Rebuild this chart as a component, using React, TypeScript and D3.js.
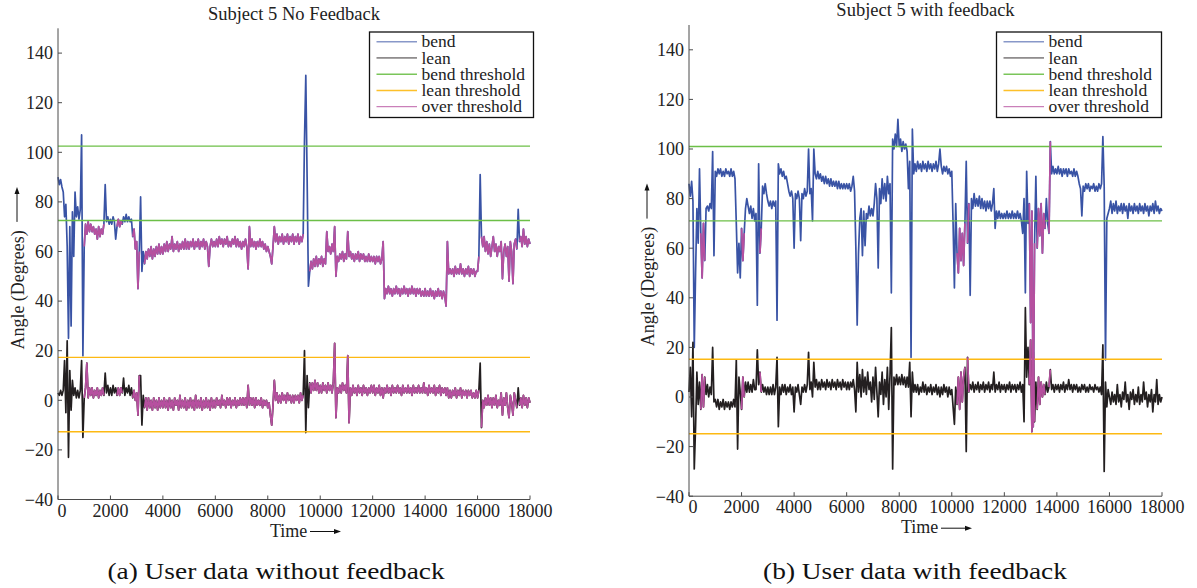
import React from 'react';
import * as d3 from 'd3';

// ---------------- DATA ----------------
const SAMPLE_STEP = 50; // time units between samples
const TIME_MAX = 18000;

// Subject 5, no feedback — bend angle (degrees), one row per 1000 time units
const bendNoFeedback = [
  90, 87, 89, 86, 84, 74, 79, 62, 25, 70, 30, 76, 58, 84, 74, 78, 73, 77, 107, 18,
  62, 71, 67, 72, 68, 71, 68, 70, 67, 69, 65, 70, 66, 69, 67, 71, 87, 72, 74, 71,
  73, 71, 74, 72, 65, 70, 73, 70, 72, 71, 74, 72, 75, 72, 74, 72, 73, 66, 69, 61,
  64, 45, 60, 82, 52, 60, 55, 60, 57, 61, 58, 62, 57, 61, 58, 62, 59, 63, 59, 62,
  59, 63, 60, 64, 60, 63, 61, 66, 60, 63, 61, 64, 60, 63, 61, 64, 61, 65, 61, 64,
  61, 64, 62, 65, 61, 64, 62, 65, 61, 64, 62, 65, 61, 64, 62, 54, 62, 65, 62, 64,
  62, 65, 62, 66, 63, 65, 62, 65, 63, 66, 62, 64, 62, 65, 63, 66, 62, 65, 62, 64,
  61, 64, 62, 65, 62, 53, 70, 62, 65, 62, 64, 61, 64, 62, 65, 62, 64, 61, 63, 60,
  62, 60, 58, 55, 62, 70, 64, 67, 63, 66, 64, 67, 63, 66, 64, 67, 63, 66, 64, 67,
  63, 66, 64, 67, 63, 66, 64, 67, 105, 131, 90, 46, 52, 56, 53, 57, 54, 58, 54, 57,
  55, 58, 54, 57, 55, 68, 60, 62, 59, 63, 60, 70, 50, 58, 56, 59, 57, 60, 56, 59,
  57, 68, 58, 60, 57, 59, 56, 59, 57, 60, 56, 59, 57, 59, 56, 58, 56, 59, 56, 58,
  56, 58, 55, 58, 56, 58, 55, 57, 64, 41, 45, 43, 46, 43, 45, 42, 45, 43, 46, 43,
  45, 42, 45, 43, 46, 43, 45, 42, 45, 43, 46, 43, 45, 42, 45, 43, 45, 42, 44, 42,
  45, 42, 44, 42, 45, 42, 44, 41, 44, 42, 45, 42, 44, 41, 44, 42, 38, 64, 51, 53,
  51, 53, 50, 54, 51, 53, 51, 55, 51, 53, 50, 53, 51, 54, 50, 53, 51, 53, 50, 52,
  52, 58, 91, 66, 62, 66, 60, 64, 59, 63, 58, 62, 66, 60, 63, 58, 62, 60, 64, 49,
  60, 63, 58, 62, 48, 64, 60, 47, 63, 65, 61, 77, 64, 66, 62, 69, 63, 66, 62, 65,
  63,
];

// Subject 5, no feedback — lean angle (degrees)
const leanNoFeedback = [
  3, 2, 4, 2, 4, 16, -5, 24, -23, 12, -4, 8, 2, 5, 1, 4, 1, 4, 16, -15,
  1, 5, 15, 1, 5, 2, 5, 1, 4, 2, 5, 1, 4, 2, 5, 2, 11, 3, 6, 2,
  5, 2, 6, 3, 5, 2, 5, 2, 5, 3, 9, 2, 5, 3, 6, 2, 5, 1, 4, 0,
  3, -6, 10, 10, -10, 2, -3, 1, -4, 1, -3, 0, -4, 1, -3, 0, -4, 1, -3, 0,
  -3, 1, -3, 0, -4, 1, -3, 0, -4, 1, -2, 0, -4, 2, -3, 0, -3, 1, -4, 0,
  -3, 1, -3, 0, -4, 2, -3, 0, -3, 1, -4, 0, -3, 1, -3, 0, -4, 1, -3, 0,
  -3, 1, -2, 0, -3, 2, -2, 0, -3, 1, -2, 1, -3, 0, -2, 1, -3, 0, -2, 1,
  -2, 1, -2, 1, -3, 6, -2, 1, -2, 1, -3, 1, -2, 0, -2, 1, -3, 0, -2, 0,
  -3, -1, -6, -10, -2, 8, 0, 3, -1, 2, -1, 3, 0, 2, -1, 3, 0, 2, -1, 2,
  -1, 2, 0, 2, -1, 3, 0, 2, 20, -13, 10, -3, 7, 3, 7, 4, 8, 4, 7, 3,
  6, 3, 7, 4, 6, 3, 7, 4, 6, 3, 7, 23, -7, 5, 3, 6, 3, 7, 4, 6,
  3, 18, -9, 5, 2, 6, 3, 5, 2, 6, 3, 5, 2, 6, 3, 5, 2, 5, 3, 6,
  3, 6, 2, 5, 3, 6, 2, 5, 1, 5, 3, 6, 3, 5, 2, 6, 3, 5, 3, 6,
  3, 5, 2, 6, 3, 5, 3, 6, 3, 5, 2, 6, 3, 5, 3, 6, 3, 5, 3, 7,
  3, 5, 2, 6, 3, 5, 3, 6, 2, 5, 3, 6, 2, 5, 3, 5, 2, 5, 1, 4,
  1, 4, 2, 5, 1, 4, 2, 5, 1, 4, 2, 4, 1, 4, 2, 4, 1, 3, 1, 4,
  1, 4, 15, -11, 0, -3, 1, -2, 2, -2, 1, -3, 1, -2, 2, -3, 0, -2, 3, -6,
  1, -2, 3, -3, -7, 2, -1, -6, 3, 0, -3, 5, -2, 1, -3, 2, -2, 1, -3, 1,
  -1,
];

// Subject 5, with feedback — bend angle (degrees)
const bendFeedback = [
  86, 81, 87, 79, 20, 50, 76, 62, 92, 66, 48, 70, 55, 76, 77, 75, 78, 76, 99, 57,
  91, 89, 92, 90, 92, 89, 91, 89, 92, 90, 91, 89, 92, 89, 91, 88, 70, 50, 62, 48,
  68, 55, 66, 76, 80, 77, 74, 77, 72, 76, 71, 74, 37, 94, 58, 68, 85, 82, 86, 82,
  79, 77, 79, 76, 79, 77, 79, 31, 94, 90, 92, 89, 91, 88, 89, 86, 83, 81, 83, 80,
  60, 82, 80, 83, 80, 63, 82, 80, 84, 81, 83, 100, 82, 84, 71, 100, 90, 88, 91, 88,
  90, 87, 89, 86, 89, 86, 88, 85, 88, 85, 87, 85, 87, 84, 87, 84, 86, 84, 86, 84,
  86, 84, 86, 83, 85, 89, 83, 60, 29, 58, 72, 76, 57, 75, 61, 74, 72, 77, 73, 76,
  73, 78, 86, 80, 52, 84, 78, 88, 80, 86, 79, 89, 82, 86, 42, 104, 100, 106, 101, 112,
  101, 104, 99, 103, 100, 102, 99, 84, 95, 16, 108, 90, 94, 91, 95, 92, 94, 91, 95, 92,
  94, 91, 95, 92, 94, 91, 94, 92, 95, 91, 94, 100, 93, 90, 93, 91, 93, 90, 92, 89,
  91, 70, 44, 78, 58, 50, 68, 55, 66, 53, 70, 95, 62, 78, 41, 80, 76, 82, 77, 80,
  77, 81, 76, 80, 76, 79, 75, 79, 76, 79, 75, 78, 84, 68, 75, 72, 75, 72, 74, 72,
  74, 72, 75, 72, 74, 72, 75, 72, 74, 72, 75, 72, 74, 71, 66, 80, 42, 91, 70, 78,
  30, 75, -12, 62, 89, 60, 76, 65, 78, 58, 74, 68, 80, 70, 66, 103, 90, 93, 90, 92,
  90, 93, 90, 92, 89, 92, 90, 92, 89, 92, 90, 91, 89, 92, 89, 91, 89, 86, 84, 73,
  85, 83, 86, 84, 86, 83, 85, 84, 86, 83, 85, 83, 86, 84, 86, 105, 85, 15, 72, 74,
  76, 79, 74, 78, 75, 79, 74, 77, 75, 78, 74, 78, 75, 77, 72, 78, 75, 77, 74, 78,
  75, 77, 74, 78, 75, 77, 74, 78, 75, 77, 73, 77, 75, 78, 74, 79, 75, 77, 74, 76,
  75,
];

// Subject 5, with feedback — lean angle (degrees)
const leanFeedback = [
  2, 12, -8, 22, -29, -12, 10, -3, 6, -5, 9, -4, 8, 1, 5, 0, 4, 1, 20, -2,
  -1, -4, -1, -5, -2, -4, -1, -5, -2, -4, -2, -5, -2, -4, -1, -4, 15, -21, 8, 2,
  -5, 8, 0, 6, 2, 6, 2, 5, 2, 7, 3, 3, 19, 5, 10, 2, 5, 2, 4, 1,
  4, 1, 4, 1, 5, 1, 4, 16, -12, 4, 1, 5, 2, 5, 1, 4, 2, 5, 1, 4,
  -6, 4, 2, 5, 1, -3, 4, 2, 5, 2, 5, 18, 3, 6, 0, 14, 4, 7, 3, 6,
  3, 7, 4, 6, 3, 7, 4, 6, 3, 7, 4, 6, 3, 7, 4, 6, 3, 7, 4, 6,
  3, 6, 3, 6, 4, 7, 3, -6, 14, 2, 9, 0, 11, 2, 8, 1, 10, 3, 6, -2,
  8, -1, 12, 2, -8, 6, 1, 10, -3, 7, 0, 12, -5, 9, 28, -29, 8, 5, 9, 5,
  8, 5, 9, 5, 8, 4, 8, 4, 14, -8, 10, 2, 5, 2, 5, 1, 4, 2, 6, 2,
  5, 1, 4, 2, 5, 1, 4, 2, 5, 1, 4, 0, 4, 1, 5, 2, 4, 0, 4, 1,
  3, -4, -11, 4, -3, 8, -5, 10, -2, 8, 12, -22, 16, 2, 5, 3, 6, 2, 5, 3,
  6, 2, 5, 3, 6, 2, 5, 3, 6, 2, 5, 3, 10, 2, 5, 3, 6, 2, 5, 3,
  5, 2, 5, 3, 6, 2, 5, 3, 5, 2, 5, 3, 6, 2, 5, -10, 36, 8, 20, 5,
  23, -14, 18, -10, 6, -5, 8, -3, 6, 0, 5, 1, 6, 2, 4, 11, 3, 5, 2, 5,
  3, 5, 2, 5, 3, 6, 2, 5, 3, 7, 3, 5, 2, 5, 3, 5, 2, 4, 2, 5,
  3, 5, 2, 4, 2, 5, 3, 4, 2, 5, 3, 4, 2, 4, 1, 21, -30, 6, -4, 3,
  0, -3, 2, -2, 1, -3, 5, -2, 1, -4, 2, -1, 6, -2, 1, -5, 2, -1, 3, -3,
  1, -2, 4, -3, 1, -2, 6, -1, 2, -4, 1, -2, 3, -6, 1, -2, 7, -3, 1, -2,
  0,
];

// Time intervals flagged "over threshold"
const overNoFeedback = [
  [1000, 1790], [2230, 2460], [2810, 3120], [3300, 9380],
  [9600, 16050], [16150, 17500], [17600, 18000],
];
const overFeedback = [
  [450, 600], [2000, 2100], [2700, 2750], [10200, 10500], [10600, 10650],
  [12950, 13150], [13250, 13550], [13700, 13750],
];

const bendThresholdNoFeedback = [102.5, 72.5];
const leanThresholdNoFeedback = [17.3, -12.7];
const bendThresholdFeedback = [101, 71];
const leanThresholdFeedback = [15.2, -14.8];

const xTickValues = [0, 2000, 4000, 6000, 8000, 10000, 12000, 14000, 16000, 18000];
const yTickValues = [-40, -20, 0, 20, 40, 60, 80, 100, 120, 140];
const legendLabels = ['bend', 'lean', 'bend threshold', 'lean threshold', 'over threshold'];

// ---------------- STYLE ----------------
const COLORS = {
  bend: '#3953a5',
  lean: '#231f20',
  bendThr: '#6cbf47',
  leanThr: '#fdb913',
  over: '#b6509f',
};
const legendColors = [COLORS.bend, COLORS.lean, COLORS.bendThr, COLORS.leanThr, COLORS.over];
const FONT = "'Liberation Serif', 'Times New Roman', serif";
const AXIS = '#4a4a4a';
const DATA_W = 1.7;

type PanelCfg = {
  left: number; right: number; top: number; bottom: number;
  title: string; titleY: number;
  legendLeft: number; legendRight: number;
  caption: string; captionX: number;
  ylabelX: number;
  bend: number[]; lean: number[]; over: number[][];
  bendThr: number[]; leanThr: number[];
};

const panels: PanelCfg[] = [
  {
    left: 58, right: 530, top: 28.3, bottom: 499.5,
    title: 'Subject 5 No Feedback', titleY: 20,
    legendLeft: 369.5, legendRight: 533.5,
    caption: '(a) User data without feedback', captionX: 276,
    ylabelX: 18,
    bend: bendNoFeedback, lean: leanNoFeedback, over: overNoFeedback,
    bendThr: bendThresholdNoFeedback, leanThr: leanThresholdNoFeedback,
  },
  {
    left: 689, right: 1162, top: 25, bottom: 496.2,
    title: 'Subject 5 with feedback', titleY: 16,
    legendLeft: 996.5, legendRight: 1161.5,
    caption: '(b) User data with feedback', captionX: 915,
    ylabelX: 648,
    bend: bendFeedback, lean: leanFeedback, over: overFeedback,
    bendThr: bendThresholdFeedback, leanThr: leanThresholdFeedback,
  },
];

function Panel({ p }: { p: PanelCfg }) {
  const x = d3.scaleLinear().domain([0, TIME_MAX]).range([p.left, p.right]);
  const y = d3.scaleLinear().domain([-40, 150]).range([p.bottom, p.top]);
  const fmt = d3.format('d');
  const line = d3
    .line<[number, number]>()
    .x((d) => x(d[0]))
    .y((d) => y(d[1]));
  const toPts = (vals: number[]) => vals.map((v, i) => [i * SAMPLE_STEP, v] as [number, number]);
  const bendPts = toPts(p.bend);
  const leanPts = toPts(p.lean);
  const overPaths: string[] = [];
  p.over.forEach(([a, b]) => {
    [bendPts, leanPts].forEach((pts) => {
      const seg = pts.filter((d) => d[0] >= a && d[0] <= b);
      if (seg.length > 1) overPaths.push(line(seg) as string);
    });
  });
  const labelMid = (p.top + p.bottom) / 2 + 26;
  const legendTop = 32;
  const rowH = 16.25;
  const timeX = p.left + 212;
  const timeY = p.bottom + 37;

  return (
    <g>
      <text x={(p.left + p.right) / 2} y={p.titleY} textAnchor="middle" fontFamily={FONT} fontSize={18.5} fill="#222">
        {p.title}
      </text>

      {/* data */}
      <path d={line(bendPts) as string} fill="none" stroke={COLORS.bend} strokeWidth={DATA_W} strokeLinejoin="round" />
      <path d={line(leanPts) as string} fill="none" stroke={COLORS.lean} strokeWidth={DATA_W} strokeLinejoin="round" />

      {/* thresholds */}
      {p.bendThr.map((t, i) => (
        <line key={'b' + i} x1={x(0)} x2={x(TIME_MAX)} y1={y(t)} y2={y(t)} stroke={COLORS.bendThr} strokeWidth={1.4} />
      ))}
      {p.leanThr.map((t, i) => (
        <line key={'l' + i} x1={x(0)} x2={x(TIME_MAX)} y1={y(t)} y2={y(t)} stroke={COLORS.leanThr} strokeWidth={1.4} />
      ))}

      {overPaths.map((d, i) => (
        <path key={'o' + i} d={d} fill="none" stroke={COLORS.over} strokeWidth={DATA_W} strokeLinejoin="round" />
      ))}

      {/* axes */}
      <line x1={p.left} x2={p.left} y1={p.top} y2={p.bottom} stroke={AXIS} strokeWidth={1} />
      <line x1={p.left} x2={p.right} y1={p.bottom} y2={p.bottom} stroke={AXIS} strokeWidth={1} />
      {yTickValues.map((v) => (
        <g key={'yt' + v}>
          <line x1={p.left} x2={p.left + 4} y1={y(v)} y2={y(v)} stroke={AXIS} />
          <text x={p.left - 5} y={y(v)} dy="0.35em" textAnchor="end" fontFamily={FONT} fontSize={18} fill="#222">
            {fmt(v)}
          </text>
        </g>
      ))}
      {xTickValues.map((v) => (
        <g key={'xt' + v}>
          <line x1={x(v)} x2={x(v)} y1={p.bottom} y2={p.bottom - 4} stroke={AXIS} />
          <text x={x(v) + (v === 0 ? 4 : 0)} y={p.bottom + 17} textAnchor="middle" fontFamily={FONT} fontSize={18} fill="#222">
            {fmt(v)}
          </text>
        </g>
      ))}

      {/* y label */}
      <text
        transform={`translate(${p.ylabelX},${labelMid}) rotate(-90)`}
        textAnchor="middle"
        dy="0.35em"
        fontFamily={FONT}
        fontSize={18}
        fill="#222"
      >
        Angle (Degrees)
      </text>
      <line x1={p.ylabelX - 1} x2={p.ylabelX - 1} y1={labelMid - 68} y2={labelMid - 98} stroke="#111" strokeWidth={1} />
      <path d={`M${p.ylabelX - 1},${labelMid - 103} l-2.5,7 l5,0 z`} fill="#111" />

      {/* x label */}
      <text x={timeX} y={timeY} fontFamily={FONT} fontSize={18} fill="#222">
        Time
      </text>
      <line x1={timeX + 40} x2={timeX + 66} y1={timeY - 5} y2={timeY - 5} stroke="#111" strokeWidth={1} />
      <path d={`M${timeX + 71},${timeY - 5} l-7,-2.5 l0,5 z`} fill="#111" />

      {/* legend */}
      <rect
        x={p.legendLeft}
        y={legendTop}
        width={p.legendRight - p.legendLeft}
        height={85.5}
        fill="#fff"
        stroke="#111"
        strokeWidth={1.3}
      />
      {legendLabels.map((lab, i) => {
        const ly = legendTop + 9.7 + i * rowH;
        return (
          <g key={lab}>
            <line
              x1={p.legendLeft + 7}
              x2={p.legendLeft + 47.5}
              y1={ly}
              y2={ly}
              stroke={legendColors[i]}
              strokeWidth={i === 1 || i === 4 ? 1 : 1.6}
              strokeOpacity={i === 0 ? 0.6 : 0.9}
            />
            <text x={p.legendLeft + 52} y={ly} dy="0.33em" fontFamily={FONT} fontSize={17.5} fill="#222">
              {lab}
            </text>
          </g>
        );
      })}

      {/* caption */}
      <text
        transform={`translate(${p.captionX},579) scale(1.19,1)`}
        textAnchor="middle"
        fontFamily={FONT}
        fontSize={23}
        fill="#111"
      >
        {p.caption}
      </text>
    </g>
  );
}

export default function App() {
  return (
    <svg
      width={1197}
      height={588}
      viewBox="0 0 1197 588"
      style={{ position: 'absolute', left: 0, top: 0, background: '#fff' }}
    >
      <rect x={0} y={0} width={1197} height={588} fill="#fff" />
      {panels.map((p, i) => (
        <Panel key={i} p={p} />
      ))}
    </svg>
  );
}
